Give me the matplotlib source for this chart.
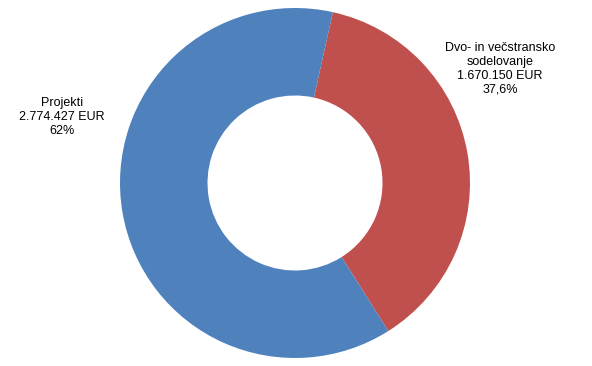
import matplotlib.pyplot as plt

labels = ['Dvo- in večstransko\nsodelovanje', 'Projekti']
values = [1670150, 2774427]
value_text = ['1.670.150 EUR', '2.774.427 EUR']
pct_text = ['37,6%', '62%']
colors = ['#C0504D', '#4F81BD']

W, H = 592, 366
fig = plt.figure(figsize=(W / 100, H / 100), dpi=100)

# donut centre and radius in pixels
cx, cy, r = 295, 183, 175
ax = fig.add_axes([(cx - r) / W, (H - cy - r) / H, 2 * r / W, 2 * r / H])
ax.pie(values, colors=colors, startangle=77.5, counterclock=False,
       radius=1, wedgeprops=dict(width=0.5, edgecolor='none'))
ax.set_xlim(-1, 1)
ax.set_ylim(-1, 1)
ax.set_aspect('equal')
ax.axis('off')

font = dict(family='Liberation Sans', fontsize=9, ha='center', va='center',
            linespacing=1.2)
fig.text(500 / W, 1 - 69 / H,
         labels[0] + '\n' + value_text[0] + '\n' + pct_text[0], **font)
fig.text(62 / W, 1 - 117 / H,
         labels[1] + '\n' + value_text[1] + '\n' + pct_text[1], **font)

fig.savefig('out.png', dpi=100)
